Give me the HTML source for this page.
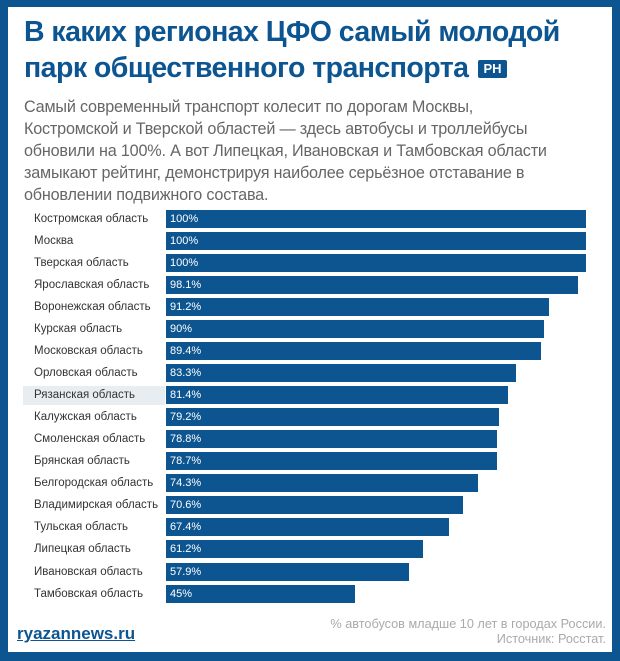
<!DOCTYPE html>
<html><head><meta charset="utf-8"><style>
body{margin:0;width:620px;height:661px;background:#0d5591;font-family:"Liberation Sans","DejaVu Sans",sans-serif;position:relative;overflow:hidden}
.w{position:absolute;left:8px;top:7px;width:604px;height:645px;background:#fff}
h1{position:absolute;left:24px;top:14px;margin:0;font-size:28.5px;line-height:36px;color:#0d5591;font-weight:bold;letter-spacing:-0.55px}
.rn{display:inline-block;background:#0d5591;color:#fff;font-size:13px;line-height:18px;padding:0 5px;border-radius:2px;vertical-align:4px;margin-left:10px;letter-spacing:0}
.sub{position:absolute;left:24px;top:96px;font-size:16.2px;line-height:22px;color:#666;letter-spacing:-0.2px}
.lab{position:absolute;left:34px;font-size:11.5px;color:#333;line-height:18px;white-space:nowrap}
.hl{position:absolute;left:23px;width:142px;height:19px;background:#e8edf2}
.bar{position:absolute;left:166px;height:18px;background:#0d5591;color:#fff;font-size:11px;line-height:18px;padding-left:4px;box-sizing:border-box}
.logo{position:absolute;left:17px;top:624px;font-size:17px;font-weight:bold;color:#0d5591;text-decoration:underline}
.note{position:absolute;right:14px;top:617px;text-align:right;font-size:12.7px;line-height:15px;color:#aaa}
</style></head><body>
<div class="w"></div>
<h1>В каких регионах ЦФО самый молодой<br>парк общественного транспорта<span class="rn">PH</span></h1>
<div class="sub">Самый современный транспорт колесит по дорогам Москвы,<br>Костромской и Тверской областей — здесь автобусы и троллейбусы<br>обновили на 100%. А вот Липецкая, Ивановская и Тамбовская области<br>замыкают рейтинг, демонстрируя наиболее серьёзное отставание в<br>обновлении подвижного состава.</div>
<div id="c"></div>
<div class="logo">ryazannews.ru</div>
<div class="note">% автобусов младше 10 лет в городах России.<br>Источник: Росстат.</div>
<script>
var d=[["Костромская область",100],["Москва",100],["Тверская область",100],["Ярославская область",98.1],["Воронежская область",91.2],["Курская область",90],["Московская область",89.4],["Орловская область",83.3],["Рязанская область",81.4],["Калужская область",79.2],["Смоленская область",78.8],["Брянская область",78.7],["Белгородская область",74.3],["Владимирская область",70.6],["Тульская область",67.4],["Липецкая область",61.2],["Ивановская область",57.9],["Тамбовская область",45]];
var h="";d.forEach(function(r,i){var y=(209.5+i*22.06).toFixed(1);
if(i==8)h+='<div class="hl" style="top:'+(+y-0.5)+'px"></div>';
h+='<div class="lab" style="top:'+y+'px">'+r[0]+'</div><div class="bar" style="top:'+y+'px;width:'+(r[1]*4.2)+'px">'+r[1]+'%</div>';});
document.getElementById("c").innerHTML=h;
</script>
</body></html>
